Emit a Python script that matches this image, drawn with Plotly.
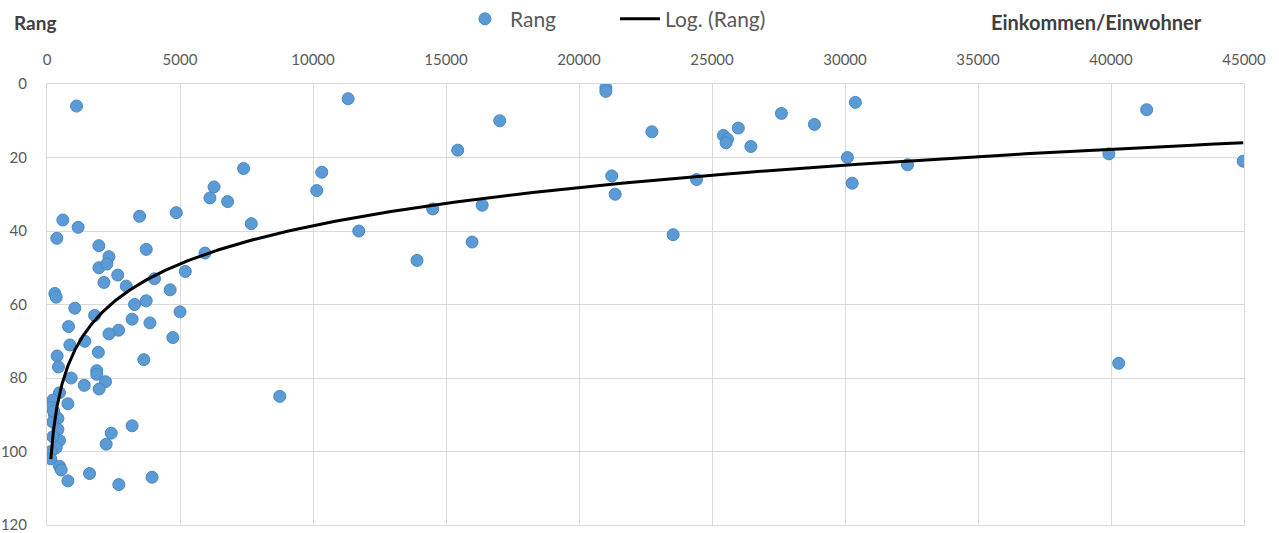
import numpy as np
import plotly.graph_objects as go

# Einkommen/Einwohner (x) and Rang (y)
einkommen = [
    1110, 11320, 7390, 10330, 6280, 6125, 6790, 10140, 595, 1170,
    370, 3480, 4860, 7680, 1950, 3730, 2330, 1950, 2250, 5940,
    2660, 2140, 4040, 5200, 2980, 4630, 295, 345, 3730, 3290,
    1045, 5000, 1790, 3200, 3870, 810, 2690, 2330, 4730, 860,
    1420, 380, 1930, 3640, 430, 1870, 1870, 910, 2200, 1400,
    1960, 470, 8750, 220, 785, 160, 280, 410, 220, 250,
    3200, 410, 2415, 470, 220, 2225, 345, 150, 145, 470,
    535, 1600, 3950, 785, 2700,
    17020, 21010, 21010, 22740, 15440, 21230, 21360, 24420, 14500, 16360,
    11720, 15980, 23540, 13910, 25430, 25580, 25530, 25990, 26460, 27610,
    28850, 30390, 30090, 30270, 32350, 41340, 39920, 44970, 40290,
]
rang = [
    6, 4, 23, 24, 28, 31, 32, 29, 37, 39,
    42, 36, 35, 38, 44, 45, 47, 50, 49, 46,
    52, 54, 53, 51, 55, 56, 57, 58, 59, 60,
    61, 62, 63, 64, 65, 66, 67, 68, 69, 71,
    70, 74, 73, 75, 77, 78, 79, 80, 81, 82,
    83, 84, 85, 86, 87, 88, 90, 91, 92, 89,
    93, 94, 95, 97, 96, 98, 99, 100, 102, 104,
    105, 106, 107, 108, 109,
    10, 1, 2, 13, 18, 25, 30, 26, 34, 33,
    40, 43, 41, 48, 14, 15, 16, 12, 17, 8,
    11, 5, 20, 27, 22, 7, 19, 21, 76,
]

# Logarithmic trendline coefficients y = a*ln(x) + b
trend_a = -15.0
trend_b = 176.7

x_ticks = [0, 5000, 10000, 15000, 20000, 25000, 30000, 35000, 40000, 45000]
y_ticks = [0, 20, 40, 60, 80, 100, 120]

tx = np.geomspace(min(einkommen), max(einkommen), 400)
ty = trend_a * np.log(tx) + trend_b

font_family = "Lato, 'Open Sans', sans-serif"
grey = "#595959"
grid = "#d9d9d9"

fig = go.Figure()
fig.add_trace(go.Scatter(
    x=einkommen, y=rang, mode="markers", name="Rang",
    marker=dict(size=12, color="#5b9bd5", line=dict(color="#4a87c2", width=1)),
))
fig.add_trace(go.Scatter(
    x=tx, y=ty, mode="lines", name="Log. (Rang)",
    line=dict(color="#000000", width=3),
))

fig.update_layout(
    width=1279, height=533,
    margin=dict(l=47, r=35, t=84, b=8, autoexpand=False),
    paper_bgcolor="white", plot_bgcolor="white",
    font=dict(family=font_family, color=grey, size=15),
    legend=dict(orientation="h", x=0.345, xanchor="left", y=1.147, yanchor="middle",
                yref="paper", font=dict(size=21, color=grey),
                itemwidth=40, tracegroupgap=0,
                entrywidth=100, entrywidthmode="pixels"),
    showlegend=True,
    xaxis=dict(side="top", range=[0, 45000], tickvals=x_ticks,
               ticktext=[str(v) for v in x_ticks], automargin=False,
               ticklabeloverflow="allow",
               showgrid=True, gridcolor=grid, gridwidth=1,
               zeroline=False, showline=True, linecolor=grid, mirror=True,
               ticks="outside", ticklen=12, tickcolor="rgba(0,0,0,0)",
               tickfont=dict(size=15, color=grey)),
    yaxis=dict(range=[120, 0], tickvals=y_ticks, automargin=False,
               ticklabeloverflow="allow",
               showgrid=True, gridcolor=grid, gridwidth=1,
               zeroline=False, showline=True, linecolor=grid, mirror=True,
               ticks="outside", ticklen=16, tickcolor="rgba(0,0,0,0)",
               tickfont=dict(size=15, color=grey)),
    annotations=[
        dict(text="<b>Rang</b>", xref="paper", yref="paper", x=-0.029, y=1.0,
             yshift=62, xanchor="left", yanchor="middle", showarrow=False,
             font=dict(size=19, color="#404040")),
        dict(text="<b>Einkommen/Einwohner</b>", xref="paper", yref="paper",
             x=0.967, y=1.0, yshift=62, xanchor="right", yanchor="middle",
             showarrow=False, font=dict(size=20, color="#404040")),
    ],
)

# remove the browser's default body margin so the figure sits at the page corner
fig.write_html(
    "out.html",
    config={"displayModeBar": False},
    post_script="document.body.style.margin='0';document.body.style.overflow='hidden';",
)
